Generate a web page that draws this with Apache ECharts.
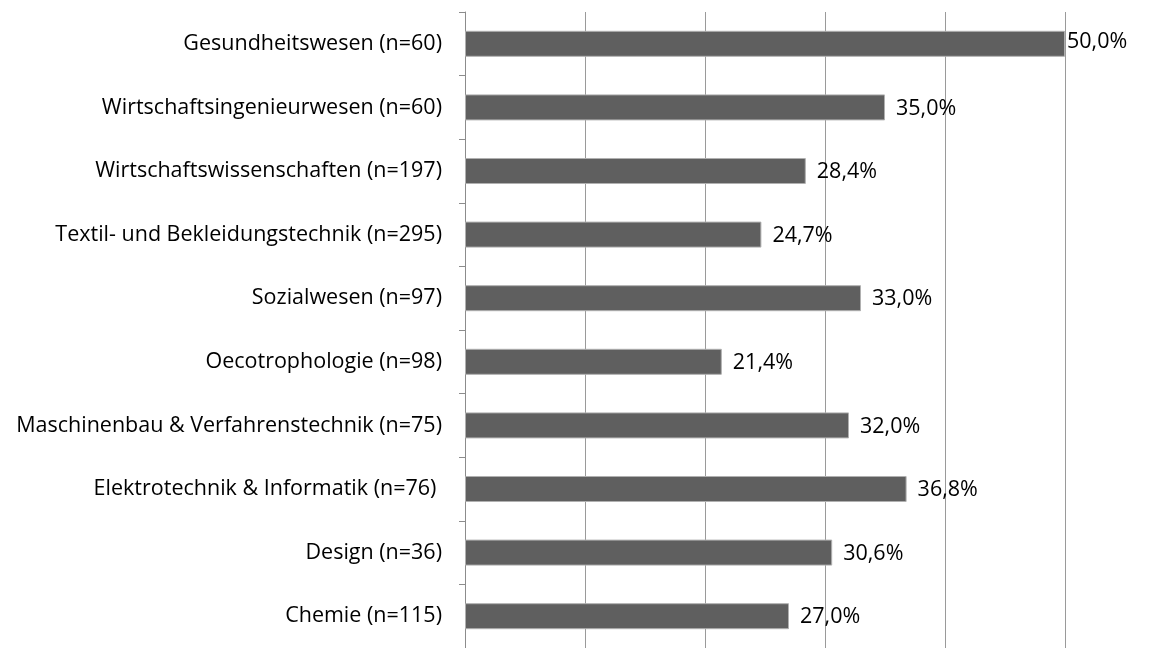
<!DOCTYPE html>
<html><head><meta charset="utf-8">
<script src="https://cdn.jsdelivr.net/npm/echarts@6/dist/echarts.min.js"></script>
<style>html,body{margin:0;padding:0;background:#fff}#c{width:1173px;height:648px}</style>
</head><body><div id="c"></div>
<script>
const categories = [
  "Gesundheitswesen (n=60)",
  "Wirtschaftsingenieurwesen (n=60)",
  "Wirtschaftswissenschaften (n=197)",
  "Textil- und Bekleidungstechnik (n=295)",
  "Sozialwesen (n=97)",
  "Oecotrophologie (n=98)",
  "Maschinenbau & Verfahrenstechnik (n=75)",
  "Elektrotechnik & Informatik (n=76) ",
  "Design (n=36)",
  "Chemie (n=115)"
];
const values = [50.0, 35.0, 28.4, 24.7, 33.0, 21.4, 32.0, 36.8, 30.6, 27.0];
const xTicks = [0, 10, 20, 30, 40, 50];

const FONT = "Open Sans";
const chart = echarts.init(document.getElementById('c'), null, {renderer: 'canvas'});
chart.setOption({
  animation: false,
  grid: {left: 465, right: 108, top: 12, height: 640, containLabel: false},
  xAxis: {
    type: 'value', min: xTicks[0], max: xTicks[xTicks.length - 1], interval: 10,
    axisLabel: {show: false}, axisTick: {show: false}, axisLine: {show: false},
    splitLine: {show: true, lineStyle: {color: '#9a9a9a', width: 1}}
  },
  yAxis: {
    type: 'category', data: categories, inverse: true,
    axisLine: {show: true, lineStyle: {color: '#8c8c8c', width: 1}},
    axisTick: {show: true, length: 6, lineStyle: {color: '#8c8c8c'}},
    axisLabel: {color: '#000', fontFamily: FONT, fontSize: 21.5, margin: 23, padding: [4, 0, 0, 0]}
  },
  series: [{
    type: 'bar', barWidth: 26,
    data: values.map((v, i) => ({
      value: v,
      label: {distance: i === 0 ? 2 : 11, offset: i === 0 ? [0, -2] : [0, 1]}
    })),
    itemStyle: {color: '#5f5f5f', borderColor: '#b0b0b0', borderWidth: 1},
    label: {
      show: true, position: 'right', color: '#000', fontFamily: FONT, fontSize: 21.5,
      formatter: p => p.value.toFixed(1).replace('.', ',') + '%'
    }
  }]
});
</script></body></html>
